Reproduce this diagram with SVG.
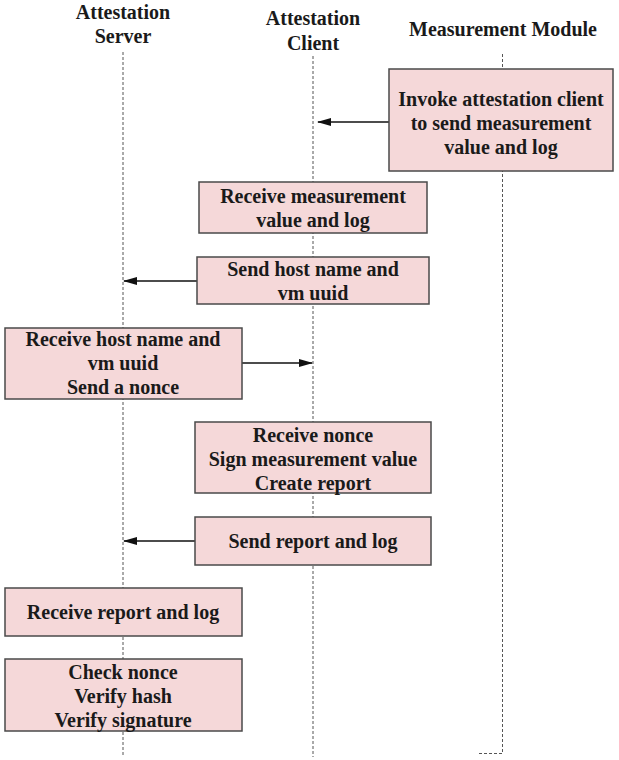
<svg xmlns="http://www.w3.org/2000/svg" width="619" height="760" viewBox="0 0 619 760">
<style>
.t{font-family:"Liberation Serif","Times New Roman",serif;font-weight:bold;font-size:20px;fill:#1a1a1a;text-anchor:middle}
.b{fill:#f5d8d9;stroke:#4a4a4a;stroke-width:1.5}
.ll{stroke:#555;stroke-width:1;stroke-dasharray:3,2;fill:none}
.a{stroke:#111;stroke-width:1.3;fill:none;marker-end:url(#ah)}
</style>
<defs>
<marker id="ah" markerWidth="14" markerHeight="10" refX="13" refY="5" orient="auto" markerUnits="userSpaceOnUse">
<path d="M0,1 L14,5 L0,9 Z" fill="#111"/>
</marker>
</defs>
<rect width="619" height="760" fill="#fff"/>
<g id="lifelines">
<text class="t" x="123" y="19">Attestation</text>
<text class="t" x="123" y="43">Server</text>
<text class="t" x="313" y="25">Attestation</text>
<text class="t" x="313" y="50">Client</text>
<text class="t" x="503" y="36">Measurement Module</text>
<path class="ll" d="M123,52 V757"/>
<path class="ll" d="M313,56 V757"/>
<path class="ll" d="M502.5,54 V753.5 H478"/>
</g>
<g id="connectors">
<path class="a" d="M389,122 H318"/>
<path class="a" d="M197,281 H124"/>
<path class="a" d="M242,363 H312"/>
<path class="a" d="M195,541 H124"/>
</g>
<g id="n1"><rect class="b" x="389" y="69" width="224" height="102"/>
<text class="t" x="501" y="106">Invoke attestation client</text>
<text class="t" x="501" y="130">to send measurement</text>
<text class="t" x="501" y="154">value and log</text></g>
<g id="n2"><rect class="b" x="199" y="182" width="228" height="51"/>
<text class="t" x="313" y="203">Receive measurement</text>
<text class="t" x="313" y="227">value and log</text></g>
<g id="n3"><rect class="b" x="197" y="257" width="232" height="47"/>
<text class="t" x="313" y="276">Send host name and</text>
<text class="t" x="313" y="300">vm uuid</text></g>
<g id="n4"><rect class="b" x="5" y="328" width="237" height="71"/>
<text class="t" x="123" y="346">Receive host name and</text>
<text class="t" x="123" y="370">vm uuid</text>
<text class="t" x="123" y="394">Send a nonce</text></g>
<g id="n5"><rect class="b" x="195" y="422" width="236" height="71"/>
<text class="t" x="313" y="442">Receive nonce</text>
<text class="t" x="313" y="466">Sign measurement value</text>
<text class="t" x="313" y="490">Create report</text></g>
<g id="n6"><rect class="b" x="195" y="517" width="236" height="48"/>
<text class="t" x="313" y="548">Send report and log</text></g>
<g id="n7"><rect class="b" x="5" y="588" width="237" height="48"/>
<text class="t" x="123" y="619">Receive report and log</text></g>
<g id="n8"><rect class="b" x="5" y="659" width="237" height="72"/>
<text class="t" x="123" y="679">Check nonce</text>
<text class="t" x="123" y="703">Verify hash</text>
<text class="t" x="123" y="727">Verify signature</text></g>
</svg>
